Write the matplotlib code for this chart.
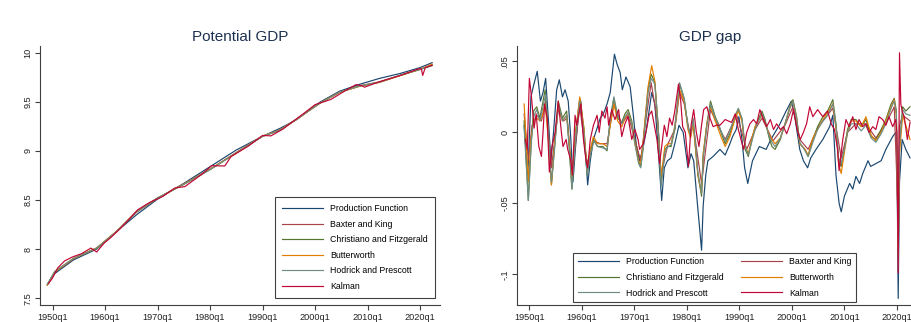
import matplotlib
matplotlib.use("Agg")
import matplotlib.pyplot as plt

plt.rcParams['font.family'] = ['Liberation Sans', 'DejaVu Sans']

# ---- data ----
names = ["Production Function", "Baxter and King", "Christiano and Fitzgerald",
         "Butterworth", "Hodrick and Prescott", "Kalman"]
colors = ["#1a476f", "#a8434c", "#55752f", "#e37e00", "#6e8e84", "#c10534"]

year_ticks = [1950, 1960, 1970, 1980, 1990, 2000, 2010, 2020]
year_labels = ["1950q1", "1960q1", "1970q1", "1980q1", "1990q1", "2000q1", "2010q1", "2020q1"]

# potential GDP (log), left panel
pot_years = [1949.0, 1950.4, 1954.0, 1958.4, 1962.2, 1966.0, 1970.0, 1975.0, 1980.0, 1985.0,
             1990.0, 1993.3, 1996.5, 2001.0, 2004.7, 2008.5, 2012.3, 2016.2, 2020.0, 2022.3]
pot_pf = [7.64, 7.75, 7.89, 8.00, 8.18, 8.35, 8.51, 8.67, 8.84, 9.01,
          9.15, 9.23, 9.32, 9.50, 9.61, 9.68, 9.74, 9.79, 9.85, 9.90]
pot_bk = [7.635, 7.765, 7.90, 8.01, 8.18, 8.375, 8.52, 8.665, 8.815, 8.985,
          9.15, 9.215, 9.325, 9.49, 9.60, 9.665, 9.705, 9.77, 9.835, 9.875]
pot_cf = [7.64, 7.77, 7.905, 8.01, 8.18, 8.38, 8.52, 8.66, 8.81, 8.98,
          9.15, 9.21, 9.325, 9.49, 9.60, 9.66, 9.70, 9.77, 9.83, 9.87]
pot_bw = [7.63, 7.765, 7.905, 8.012, 8.182, 8.383, 8.52, 8.662, 8.812, 8.982,
          9.152, 9.212, 9.323, 9.49, 9.598, 9.66, 9.70, 9.768, 9.832, 9.885]
pot_hp = [7.64, 7.772, 7.905, 8.01, 8.18, 8.38, 8.522, 8.66, 8.81, 8.98,
          9.15, 9.21, 9.325, 9.49, 9.60, 9.662, 9.702, 9.772, 9.832, 9.872]
pot_kal = [(1949.25, 7.65), (1950.0, 7.707), (1951.0, 7.81), (1952.3, 7.88), (1953.8, 7.92),
           (1955.5, 7.953), (1957.3, 8.01), (1958.4, 7.97), (1959.8, 8.06), (1961.1, 8.118),
           (1963.0, 8.215), (1966.2, 8.40), (1968.5, 8.476), (1971.0, 8.537), (1973.3, 8.623),
           (1975.2, 8.637), (1978.4, 8.761), (1980.3, 8.85), (1982.8, 8.847), (1984.0, 8.943),
           (1987.3, 9.05), (1990.0, 9.158), (1991.6, 9.154), (1993.9, 9.224), (1997.6, 9.373),
           (2000.0, 9.472), (2003.0, 9.525), (2005.9, 9.619), (2007.8, 9.676), (2009.0, 9.665),
           (2009.4, 9.65), (2012.2, 9.705), (2016.0, 9.766), (2019.8, 9.838), (2020.25, 9.837),
           (2020.5, 9.77), (2021.0, 9.85), (2022.3, 9.875)]

# GDP gap, right panel: (year, gap)
gap_pf = [(1949.0, 0.005), (1949.7, -0.03), (1950.3, 0.025), (1950.8, 0.033), (1951.5, 0.043),
          (1952.1, 0.022), (1952.6, 0.028), (1953.1, 0.038), (1953.6, 0.01), (1954.1, -0.02),
          (1954.6, 0.0), (1955.2, 0.03), (1955.7, 0.037), (1956.3, 0.025), (1956.8, 0.03),
          (1957.4, 0.022), (1957.9, -0.005), (1958.3, -0.035), (1958.8, -0.01), (1959.4, 0.015),
          (1959.8, 0.022), (1960.3, 0.0), (1960.8, -0.02), (1961.1, -0.037), (1961.6, -0.02),
          (1962.2, -0.005), (1962.9, 0.003), (1963.5, 0.01), (1964.1, 0.013), (1964.8, 0.02),
          (1965.4, 0.028), (1966.2, 0.055), (1966.7, 0.048), (1967.3, 0.042), (1967.7, 0.03),
          (1968.4, 0.039), (1969.2, 0.032), (1969.8, 0.012), (1970.4, -0.01), (1971.0, -0.02),
          (1971.6, -0.012), (1972.2, 0.0), (1972.8, 0.015), (1973.3, 0.028), (1973.9, 0.02),
          (1974.5, -0.01), (1975.2, -0.048), (1975.7, -0.025), (1976.3, -0.02), (1977.0, -0.018),
          (1977.7, -0.008), (1978.5, 0.005), (1979.3, 0.0), (1980.2, -0.025), (1980.8, -0.015),
          (1981.3, -0.02), (1982.0, -0.05), (1982.8, -0.083), (1983.1, -0.052), (1983.6, -0.03),
          (1984.0, -0.02), (1985.0, -0.017), (1986.3, -0.012), (1987.3, -0.016), (1988.2, -0.008),
          (1988.7, -0.003), (1989.4, 0.002), (1989.9, 0.011), (1990.5, -0.005), (1991.0, -0.025),
          (1991.6, -0.036), (1992.5, -0.02), (1993.8, -0.01), (1995.1, -0.012), (1996.0, -0.005),
          (1997.6, 0.005), (1998.9, 0.015), (1999.9, 0.022), (2000.6, 0.01), (2001.5, -0.012),
          (2002.2, -0.02), (2003.0, -0.025), (2003.6, -0.018), (2004.6, -0.012), (2005.9, -0.005),
          (2007.2, 0.004), (2007.8, 0.012), (2008.4, -0.03), (2009.0, -0.05), (2009.4, -0.056),
          (2010.0, -0.045), (2011.0, -0.036), (2011.6, -0.04), (2012.2, -0.031), (2012.9, -0.036),
          (2013.5, -0.029), (2014.5, -0.02), (2015.0, -0.024), (2016.0, -0.022), (2017.0, -0.02),
          (2017.9, -0.012), (2019.2, -0.003), (2019.8, 0.0), (2020.0, -0.01), (2020.25, -0.117),
          (2020.5, -0.035), (2020.75, -0.02), (2021.0, -0.005), (2021.7, -0.012), (2022.5, -0.018)]

gap_bk = [(1949.0, 0.013), (1949.8, -0.02), (1950.5, 0.005), (1951.4, 0.012), (1952.3, 0.008),
          (1953.1, 0.022), (1954.2, -0.025), (1955.5, 0.016), (1956.5, 0.008), (1957.2, 0.01),
          (1958.1, -0.03), (1959.6, 0.018), (1961.0, -0.022), (1962.2, -0.006), (1963.5, -0.008),
          (1964.8, -0.008), (1966.1, 0.02), (1967.6, 0.006), (1968.8, 0.012), (1970.1, -0.005),
          (1971.2, -0.02), (1972.0, 0.004), (1973.2, 0.035), (1974.5, 0.005), (1975.1, -0.03),
          (1976.4, -0.008), (1977.7, 0.002), (1978.6, 0.028), (1979.5, 0.02), (1980.5, 0.0),
          (1981.2, 0.005), (1982.8, -0.036), (1984.5, 0.016), (1986.0, 0.004), (1987.3, -0.005),
          (1989.5, 0.012), (1991.4, -0.012), (1993.0, 0.002), (1994.3, 0.01), (1996.4, -0.006),
          (1998.7, 0.005), (2000.2, 0.018), (2001.5, -0.005), (2003.1, -0.012), (2004.9, 0.003),
          (2007.8, 0.017), (2009.4, -0.018), (2010.6, 0.0), (2012.2, 0.006), (2014.1, 0.006),
          (2016.0, -0.004), (2017.9, 0.006), (2019.5, 0.018), (2020.25, -0.06), (2020.5, 0.005),
          (2021.1, 0.012), (2022.5, 0.008)]

gap_cf = [(1949.0, 0.008), (1949.8, -0.048), (1950.3, -0.01), (1950.8, 0.015), (1951.4, 0.018),
          (1952.0, 0.01), (1952.5, 0.02), (1953.0, 0.03), (1953.6, 0.0), (1954.2, -0.037),
          (1954.8, -0.01), (1955.5, 0.022), (1956.3, 0.01), (1957.1, 0.015), (1957.6, -0.01),
          (1958.1, -0.04), (1958.8, 0.0), (1959.6, 0.024), (1960.4, 0.002), (1961.0, -0.03),
          (1961.6, -0.015), (1962.2, -0.005), (1963.0, -0.01), (1964.0, -0.01), (1964.8, -0.013),
          (1965.4, 0.009), (1966.1, 0.024), (1966.8, 0.01), (1967.6, 0.007), (1968.2, 0.013),
          (1968.8, 0.016), (1969.5, 0.008), (1970.1, -0.006), (1970.8, -0.02), (1971.2, -0.024),
          (1971.6, -0.012), (1972.0, 0.006), (1972.6, 0.03), (1973.2, 0.041), (1973.9, 0.035),
          (1974.5, 0.006), (1975.1, -0.036), (1975.8, -0.012), (1976.4, -0.01), (1977.0, -0.01),
          (1977.7, 0.002), (1978.6, 0.034), (1979.5, 0.023), (1980.2, 0.004), (1980.7, -0.003),
          (1981.2, 0.008), (1982.1, -0.03), (1982.8, -0.045), (1983.1, -0.017), (1983.8, 0.006),
          (1984.5, 0.022), (1985.4, 0.011), (1986.0, 0.006), (1986.6, -0.001), (1987.3, -0.008),
          (1988.2, -0.001), (1989.2, 0.011), (1989.8, 0.016), (1990.5, 0.009), (1991.1, -0.012),
          (1991.7, -0.017), (1992.4, -0.005), (1993.0, 0.004), (1993.6, 0.009), (1994.3, 0.015),
          (1994.9, 0.009), (1995.6, -0.003), (1996.2, -0.01), (1996.8, -0.012), (1997.8, -0.005),
          (1998.7, 0.006), (1999.6, 0.018), (2000.2, 0.023), (2000.9, 0.011), (2001.5, -0.008),
          (2002.5, -0.012), (2003.1, -0.017), (2004.0, -0.005), (2004.9, 0.004), (2005.9, 0.011),
          (2006.8, 0.015), (2007.8, 0.023), (2008.4, 0.006), (2008.9, -0.02), (2009.4, -0.024),
          (2010.0, -0.012), (2010.6, 0.002), (2011.3, 0.009), (2012.2, 0.009), (2013.2, 0.004),
          (2014.1, 0.009), (2015.1, -0.003), (2016.0, -0.005), (2017.0, 0.002), (2017.9, 0.009),
          (2018.9, 0.02), (2019.5, 0.024), (2019.9, 0.015), (2020.25, -0.08), (2020.5, -0.01),
          (2021.1, 0.018), (2021.7, 0.015), (2022.5, 0.018)]

gap_bw = [(1949.0, 0.02), (1949.8, -0.035), (1950.3, -0.005), (1950.8, 0.008), (1951.4, 0.01),
          (1952.0, 0.008), (1952.5, 0.012), (1953.0, 0.02), (1953.6, -0.005), (1954.2, -0.037),
          (1954.8, -0.008), (1955.5, 0.018), (1956.3, 0.008), (1957.1, 0.012), (1957.6, -0.008),
          (1958.1, -0.033), (1958.8, 0.0), (1959.6, 0.025), (1960.4, 0.003), (1961.0, -0.028),
          (1961.6, -0.012), (1962.2, -0.003), (1963.0, -0.008), (1964.0, -0.008), (1964.8, -0.01),
          (1965.4, 0.005), (1966.1, 0.02), (1966.8, 0.008), (1967.6, 0.004), (1968.2, 0.01),
          (1968.8, 0.014), (1969.5, 0.006), (1970.1, -0.008), (1970.8, -0.02), (1971.2, -0.022),
          (1971.6, -0.01), (1972.0, 0.008), (1972.6, 0.032), (1973.3, 0.047), (1973.9, 0.036),
          (1974.5, 0.004), (1975.1, -0.031), (1975.8, -0.01), (1976.4, -0.008), (1977.0, -0.008),
          (1977.7, 0.004), (1978.6, 0.03), (1979.5, 0.022), (1980.2, 0.002), (1980.7, -0.004),
          (1981.2, 0.006), (1982.1, -0.03), (1982.8, -0.043), (1983.1, -0.015), (1983.8, 0.006),
          (1984.5, 0.018), (1985.4, 0.008), (1986.0, 0.002), (1986.6, -0.004), (1987.3, -0.01),
          (1988.2, -0.003), (1989.2, 0.01), (1989.8, 0.015), (1990.5, 0.008), (1991.1, -0.01),
          (1991.7, -0.015), (1992.4, -0.004), (1993.0, 0.004), (1993.6, 0.008), (1994.3, 0.012),
          (1994.9, 0.007), (1995.6, -0.001), (1996.2, -0.005), (1996.8, -0.008), (1997.8, -0.004),
          (1998.7, 0.006), (1999.6, 0.017), (2000.2, 0.022), (2000.9, 0.01), (2001.5, -0.008),
          (2002.5, -0.012), (2003.1, -0.016), (2004.0, -0.004), (2004.9, 0.002), (2005.9, 0.009),
          (2006.8, 0.014), (2007.8, 0.02), (2008.4, 0.004), (2008.9, -0.022), (2009.4, -0.029),
          (2010.0, -0.014), (2010.6, 0.0), (2011.3, 0.008), (2012.2, 0.008), (2013.2, 0.004),
          (2014.1, 0.011), (2015.1, -0.002), (2016.0, -0.006), (2017.0, 0.0), (2017.9, 0.008),
          (2018.9, 0.018), (2019.5, 0.023), (2019.9, 0.012), (2020.25, -0.085), (2020.5, -0.015),
          (2021.1, 0.012), (2021.7, 0.005), (2022.5, -0.005)]

gap_hp = [(1949.0, 0.003), (1949.8, -0.048), (1950.4, -0.005), (1950.9, 0.012), (1951.4, 0.016),
          (1952.0, 0.008), (1952.6, 0.018), (1953.1, 0.027), (1953.6, 0.0), (1954.2, -0.035),
          (1954.8, -0.012), (1955.5, 0.02), (1956.3, 0.008), (1957.1, 0.012), (1957.6, -0.012),
          (1958.1, -0.04), (1958.8, -0.003), (1959.6, 0.022), (1960.4, 0.0), (1961.0, -0.03),
          (1961.6, -0.016), (1962.3, -0.006), (1963.0, -0.01), (1964.0, -0.011), (1964.8, -0.012),
          (1965.4, 0.01), (1966.1, 0.025), (1966.8, 0.012), (1967.6, 0.006), (1968.2, 0.011),
          (1968.8, 0.014), (1969.5, 0.006), (1970.1, -0.008), (1970.8, -0.022), (1971.2, -0.025),
          (1971.6, -0.014), (1972.0, 0.004), (1972.6, 0.028), (1973.2, 0.038), (1973.9, 0.034),
          (1974.5, 0.006), (1975.1, -0.038), (1975.8, -0.014), (1976.4, -0.01), (1977.0, -0.009),
          (1977.7, 0.004), (1978.6, 0.035), (1979.5, 0.024), (1980.2, 0.004), (1980.7, -0.002),
          (1981.2, 0.01), (1982.1, -0.028), (1982.8, -0.043), (1983.1, -0.018), (1983.8, 0.004),
          (1984.5, 0.02), (1985.4, 0.01), (1986.0, 0.006), (1986.6, 0.0), (1987.3, -0.006),
          (1988.2, 0.001), (1989.2, 0.012), (1989.8, 0.017), (1990.5, 0.01), (1991.1, -0.01),
          (1991.7, -0.016), (1992.4, -0.006), (1993.0, 0.002), (1993.6, 0.008), (1994.3, 0.013),
          (1994.9, 0.008), (1995.6, -0.002), (1996.2, -0.007), (1996.8, -0.01), (1997.8, -0.004),
          (1998.7, 0.006), (1999.6, 0.017), (2000.2, 0.022), (2000.9, 0.01), (2001.5, -0.007),
          (2002.5, -0.013), (2003.1, -0.017), (2004.0, -0.007), (2004.9, 0.002), (2005.9, 0.008),
          (2006.8, 0.012), (2007.8, 0.02), (2008.4, 0.005), (2008.9, -0.018), (2009.4, -0.022),
          (2010.0, -0.012), (2010.6, 0.0), (2011.3, 0.006), (2012.2, 0.006), (2013.2, 0.001),
          (2014.1, 0.005), (2015.1, -0.004), (2016.0, -0.007), (2017.0, -0.001), (2017.9, 0.006),
          (2018.9, 0.017), (2019.5, 0.022), (2019.9, 0.014), (2020.25, -0.095), (2020.5, -0.008),
          (2021.1, 0.016), (2021.7, 0.013), (2022.5, 0.012)]

gap_kal = [(1949.25, -0.005), (1949.6, -0.012), (1950.0, 0.038), (1950.4, 0.025), (1950.9, 0.003),
           (1951.3, 0.013), (1951.8, -0.01), (1952.3, -0.017), (1952.6, 0.0), (1952.9, 0.02),
           (1953.4, 0.01), (1953.8, -0.028), (1954.3, -0.01), (1954.9, 0.0), (1955.5, 0.022),
           (1956.1, 0.0), (1956.4, -0.01), (1957.0, -0.005), (1957.3, -0.012), (1957.9, -0.02),
           (1958.2, -0.03), (1958.7, 0.012), (1959.0, 0.005), (1959.8, 0.02), (1960.3, -0.005),
           (1960.8, -0.02), (1961.1, -0.025), (1961.6, -0.005), (1962.2, 0.005), (1962.9, 0.012),
           (1963.3, 0.0), (1963.8, 0.015), (1964.4, 0.01), (1964.8, 0.018), (1965.1, 0.005),
           (1965.7, 0.016), (1966.3, 0.009), (1967.0, 0.016), (1967.6, -0.003), (1968.2, 0.006),
           (1968.8, 0.011), (1969.5, -0.005), (1970.1, 0.002), (1970.7, -0.005), (1971.0, -0.012),
           (1971.7, -0.008), (1972.3, 0.002), (1972.8, 0.012), (1973.3, 0.015), (1973.8, 0.005),
           (1974.3, -0.005), (1974.8, -0.022), (1975.2, -0.01), (1975.7, 0.005), (1976.2, -0.003),
           (1976.7, 0.01), (1977.2, 0.005), (1977.7, 0.015), (1978.4, 0.034), (1978.8, 0.023),
           (1979.2, 0.004), (1979.7, 0.0), (1980.3, -0.024), (1980.8, 0.005), (1981.3, 0.016),
           (1981.8, 0.0), (1982.3, -0.01), (1982.8, 0.005), (1983.2, 0.016), (1983.8, 0.018),
           (1984.4, 0.01), (1985.0, 0.004), (1985.6, 0.005), (1986.3, 0.005), (1987.3, 0.009),
           (1987.9, 0.008), (1988.5, 0.007), (1989.2, 0.013), (1989.8, 0.002), (1990.8, -0.012),
           (1991.4, 0.0), (1992.0, 0.006), (1992.7, 0.009), (1993.3, 0.006), (1993.9, 0.016),
           (1994.6, 0.009), (1995.2, 0.004), (1995.9, 0.009), (1996.5, 0.002), (1997.1, 0.006),
           (1997.8, 0.002), (1998.4, 0.004), (1999.0, -0.001), (1999.7, 0.006), (2000.3, 0.016),
           (2001.0, 0.002), (2001.6, -0.005), (2002.2, 0.0), (2002.8, 0.006), (2003.4, 0.018),
           (2004.0, 0.011), (2004.9, 0.016), (2005.9, 0.011), (2006.8, 0.015), (2007.5, 0.006),
           (2008.1, 0.002), (2008.7, -0.012), (2009.0, -0.027), (2009.7, -0.005), (2010.3, 0.009),
           (2010.9, 0.004), (2011.6, 0.011), (2012.2, 0.002), (2012.8, 0.009), (2013.5, 0.004),
           (2014.1, 0.006), (2014.7, 0.0), (2015.4, 0.004), (2016.0, 0.002), (2016.6, 0.011),
           (2017.3, 0.009), (2017.9, 0.005), (2018.5, 0.011), (2019.2, 0.004), (2019.8, 0.009),
           (2020.0, 0.0), (2020.25, -0.099), (2020.5, 0.056), (2020.75, 0.02), (2021.0, 0.015),
           (2021.4, 0.011), (2022.0, -0.005), (2022.5, 0.007)]

# ---- figure ----
fig = plt.figure(figsize=(9.11, 3.22), dpi=100)
ax1 = fig.add_axes([40 / 911, 17 / 322, 400 / 911, 259 / 322])
ax2 = fig.add_axes([517.3 / 911, 17 / 322, 399 / 911, 259 / 322])

lw = 0.85
left_series = [pot_pf, pot_bk, pot_cf, pot_bw, pot_hp]
lines = []
for vals, name, c in zip(left_series, names[:5], colors[:5]):
    ln, = ax1.plot(pot_years, vals, color=c, lw=lw, label=name)
    lines.append(ln)
kx, ky = zip(*pot_kal)
ln, = ax1.plot(kx, ky, color=colors[5], lw=lw, label=names[5])
lines.append(ln)

gaps = [gap_pf, gap_bk, gap_cf, gap_bw, gap_hp, gap_kal]
lines2 = []
for g, name, c in zip(gaps, names, colors):
    gx, gy = zip(*g)
    ln, = ax2.plot(gx, gy, color=c, lw=lw, label=name)
    lines2.append(ln)

ax1.set_xlim(1947.6, 2023.8)
ax1.set_ylim(7.43, 10.07)
ax1.set_yticks([7.5, 8, 8.5, 9, 9.5, 10])
ax1.set_yticklabels(["7.5", "8", "8.5", "9", "9.5", "10"])

ax2.set_xlim(1947.7, 2023.7)
ax2.set_ylim(-0.1216, 0.0608)
ax2.set_yticks([-0.1, -0.05, 0, 0.05])
ax2.set_yticklabels(["-.1", "-.05", "0", ".05"])

for ax in (ax1, ax2):
    ax.set_xticks(year_ticks)
    ax.set_xticklabels(year_labels)
    for s in ("top", "right"):
        ax.spines[s].set_visible(False)
    for s in ("left", "bottom"):
        ax.spines[s].set_color("#404040")
        ax.spines[s].set_linewidth(0.8)
    ax.tick_params(length=3.5, width=0.8, color="#404040", labelsize=6.6,
                   labelcolor="#222222", pad=2)
    for t in ax.get_yticklabels():
        t.set_rotation(90)
        t.set_va("center")

fig.text(240 / 911, 1 - 37 / 322, "Potential GDP", ha="center", va="center",
         fontsize=11, color="#1e3250")
fig.text(710 / 911, 1 - 37 / 322, "GDP gap", ha="center", va="center",
         fontsize=11, color="#1e3250")

leg1 = ax1.legend(handles=lines, loc="lower right", bbox_to_anchor=(0.9875, 0.027),
                  borderaxespad=0, fontsize=6.3, handlelength=4.7, handletextpad=0.8,
                  labelspacing=0.75, borderpad=0.8, fancybox=False, framealpha=1)
leg1.get_frame().set_edgecolor("#404040")
leg1.get_frame().set_linewidth(0.8)

order = [0, 2, 4, 1, 3, 5]
leg2 = ax2.legend(handles=[lines2[i] for i in order], loc="lower left",
                  bbox_to_anchor=(0.14, 0.012), borderaxespad=0, ncol=2, fontsize=6.3,
                  handlelength=4.7, handletextpad=0.8, labelspacing=0.75, borderpad=0.5,
                  columnspacing=2.0, fancybox=False, framealpha=1)
leg2.get_frame().set_edgecolor("#404040")
leg2.get_frame().set_linewidth(0.8)

plt.savefig("out.png", dpi=100)
